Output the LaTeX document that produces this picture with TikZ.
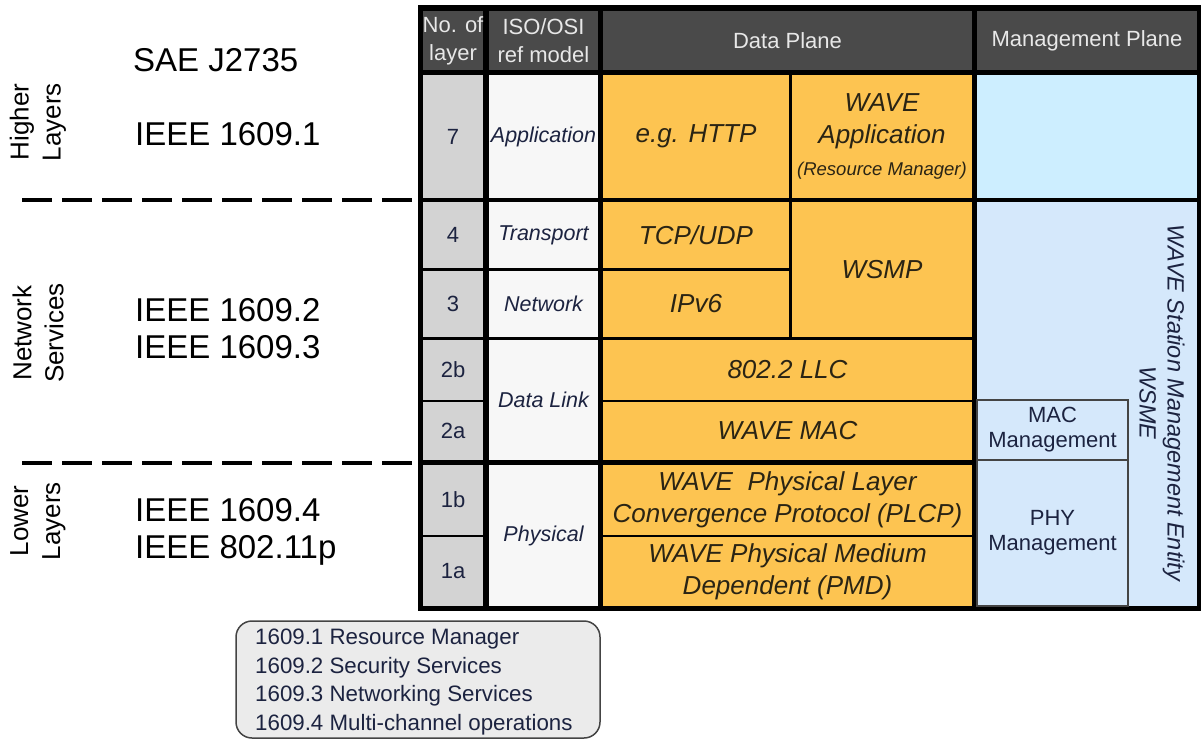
\documentclass[tikz,border=0pt]{standalone}
\usepackage{fontspec}
\setmainfont{Liberation Sans}
\definecolor{hdrgrey}{HTML}{4A4A4A}
\definecolor{hdrtext}{HTML}{E8E8E8}
\definecolor{numgrey}{HTML}{D3D3D3}
\definecolor{isowhite}{HTML}{F7F7F7}
\definecolor{dporange}{HTML}{FDC451}
\definecolor{mgtop}{HTML}{CDEEFF}
\definecolor{mgblue}{HTML}{D5E8FB}
\definecolor{navy}{HTML}{1C2340}
\definecolor{dptext}{HTML}{2A2414}
\definecolor{legfill}{HTML}{EBEBEB}
\definecolor{legborder}{HTML}{444444}
\newcommand{\cellnode}[7]{\node[cell,#6,minimum width={(#4)-(#2)},minimum height={(#5)-(#3)}] (#1) at ({((#2)+(#4))/2},{((#3)+(#5))/2}) {#7};}
\begin{document}
\begin{tikzpicture}[x=1pt,y=-1pt,
  cell/.style={inner sep=0pt,outer sep=0pt,align=center},
  hdr/.style={fill=hdrgrey,text=hdrtext,font=\fontsize{22}{28}\selectfont},
  num/.style={fill=numgrey,text=navy,font=\fontsize{22}{26}\selectfont},
  iso/.style={fill=isowhite,text=navy,font=\fontsize{21.5}{26}\selectfont\itshape},
  dp/.style={fill=dporange,text=dptext,font=\fontsize{26}{32}\selectfont\itshape},
  mg/.style={fill=mgblue},
  mgbox/.style={draw=legborder,line width=1.5pt,fill=mgblue,text=navy,font=\fontsize{22}{25}\selectfont},
  side/.style={font=\fontsize{26}{32}\selectfont,rotate=90,align=center,text=black,inner sep=0pt},
  std/.style={font=\fontsize{33}{37}\selectfont,anchor=west,align=left,text=black,inner sep=0pt},
  dashline/.style={line width=4.5pt,dash pattern=on 30pt off 10pt,black}
]
\useasboundingbox (0,0) rectangle (1201,740);
\fill[white] (0,0) rectangle (1201,740);

% frame
\node[cell,fill=black,minimum width=783,minimum height=606] (frame) at (809.5,308) {};

% header
\cellnode{hnum}{423}{11}{483}{70}{hdr}{No. of\\layer}
\cellnode{hiso}{489}{11}{598}{70}{hdr}{ISO/OSI\\ref model}
\cellnode{hdata}{603}{11}{972}{70}{hdr}{Data Plane}
\cellnode{hmgmt}{977}{11}{1197}{70}{hdr}{Management Plane}

% layer numbers
\cellnode{n7}{423}{75}{483}{198}{num}{7}
\cellnode{n4}{423}{202}{483}{268}{num}{4}
\cellnode{n3}{423}{271}{483}{337}{num}{3}
\cellnode{n2b}{423}{340}{483}{400}{num}{2b}
\cellnode{n2a}{423}{402}{483}{460}{num}{2a}
\cellnode{n1b}{423}{465}{483}{535}{num}{1b}
\cellnode{n1a}{423}{537}{483}{606}{num}{1a}

% ISO/OSI
\cellnode{iapp}{489}{75}{598}{198}{iso}{Application}
\cellnode{itra}{489}{202}{598}{268}{iso}{Transport}
\cellnode{inet}{489}{271}{598}{337}{iso}{Network}
\cellnode{idl}{489}{340}{598}{460}{iso}{Data Link}
\cellnode{iphy}{489}{465}{598}{606}{iso}{Physical}

% data plane
\cellnode{http}{603}{75}{789}{198}{dp}{e.g. HTTP}
\cellnode{wapp}{792}{75}{972}{198}{dp}{WAVE\\Application\\{\fontsize{18.5}{24}\selectfont(Resource Manager)}}
\cellnode{tcp}{603}{202}{789}{268}{dp}{TCP/UDP}
\cellnode{ipv}{603}{271}{789}{337}{dp}{IPv6}
\cellnode{wsmp}{792}{202}{972}{337}{dp}{WSMP}
\cellnode{llc}{603}{340}{972}{400}{dp}{802.2 LLC}
\cellnode{wmac}{603}{402}{972}{460}{dp}{WAVE MAC}
\cellnode{plcp}{603}{465}{972}{535}{dp}{WAVE\ \ Physical Layer\\Convergence Protocol (PLCP)}
\cellnode{pmd}{603}{537}{972}{606}{dp}{WAVE Physical Medium\\Dependent (PMD)}

% management plane
\cellnode{mg7}{977}{75}{1197}{198}{fill=mgtop}{}
\cellnode{wsme}{977}{202}{1197}{606}{mg}{}
\cellnode{macm}{977}{400}{1128}{460}{mgbox}{MAC\\Management}
\cellnode{phym}{977}{460}{1128}{606}{mgbox}{PHY\\Management}
\node[rotate=-90,align=center,text=navy,inner sep=0pt,font=\fontsize{23.5}{28}\selectfont\itshape] (wsmetext) at (1162,403) {WAVE Station Management Entity\\WSME};

% left side
\node[side] (higher) at (38,122) {Higher\\Layers};
\node[side] (netsvc) at (38,333) {Network\\Services};
\node[side] (lower) at (38,521) {Lower\\Layers};
\node[std] (sae) at (133,60) {SAE J2735};
\node[std] (i1) at (135,134) {IEEE 1609.1};
\node[std] (i23) at (135,329) {IEEE 1609.2\\IEEE 1609.3};
\node[std] (i4p) at (135,532) {IEEE 1609.4\\IEEE 802.11p};

\coordinate (d1a) at (22,200);
\coordinate (d1b) at (418,200);
\coordinate (d2a) at (22,463);
\coordinate (d2b) at (418,463);
\draw[dashline] (d1a) -- (d1b);
\draw[dashline] (d2a) -- (d2b);

% legend
\node[cell,draw=legborder,fill=legfill,rounded corners=16pt,line width=1.5pt,minimum width=364,minimum height=117] (legend) at (418,679.5) {};
\node[anchor=west,align=left,inner sep=0pt,text=navy,font=\fontsize{22.3}{28.5}\selectfont] (legtext) at (255,682) {1609.1 Resource Manager\\1609.2 Security Services\\1609.3 Networking Services\\1609.4 Multi-channel operations};
\end{tikzpicture}
\end{document}
